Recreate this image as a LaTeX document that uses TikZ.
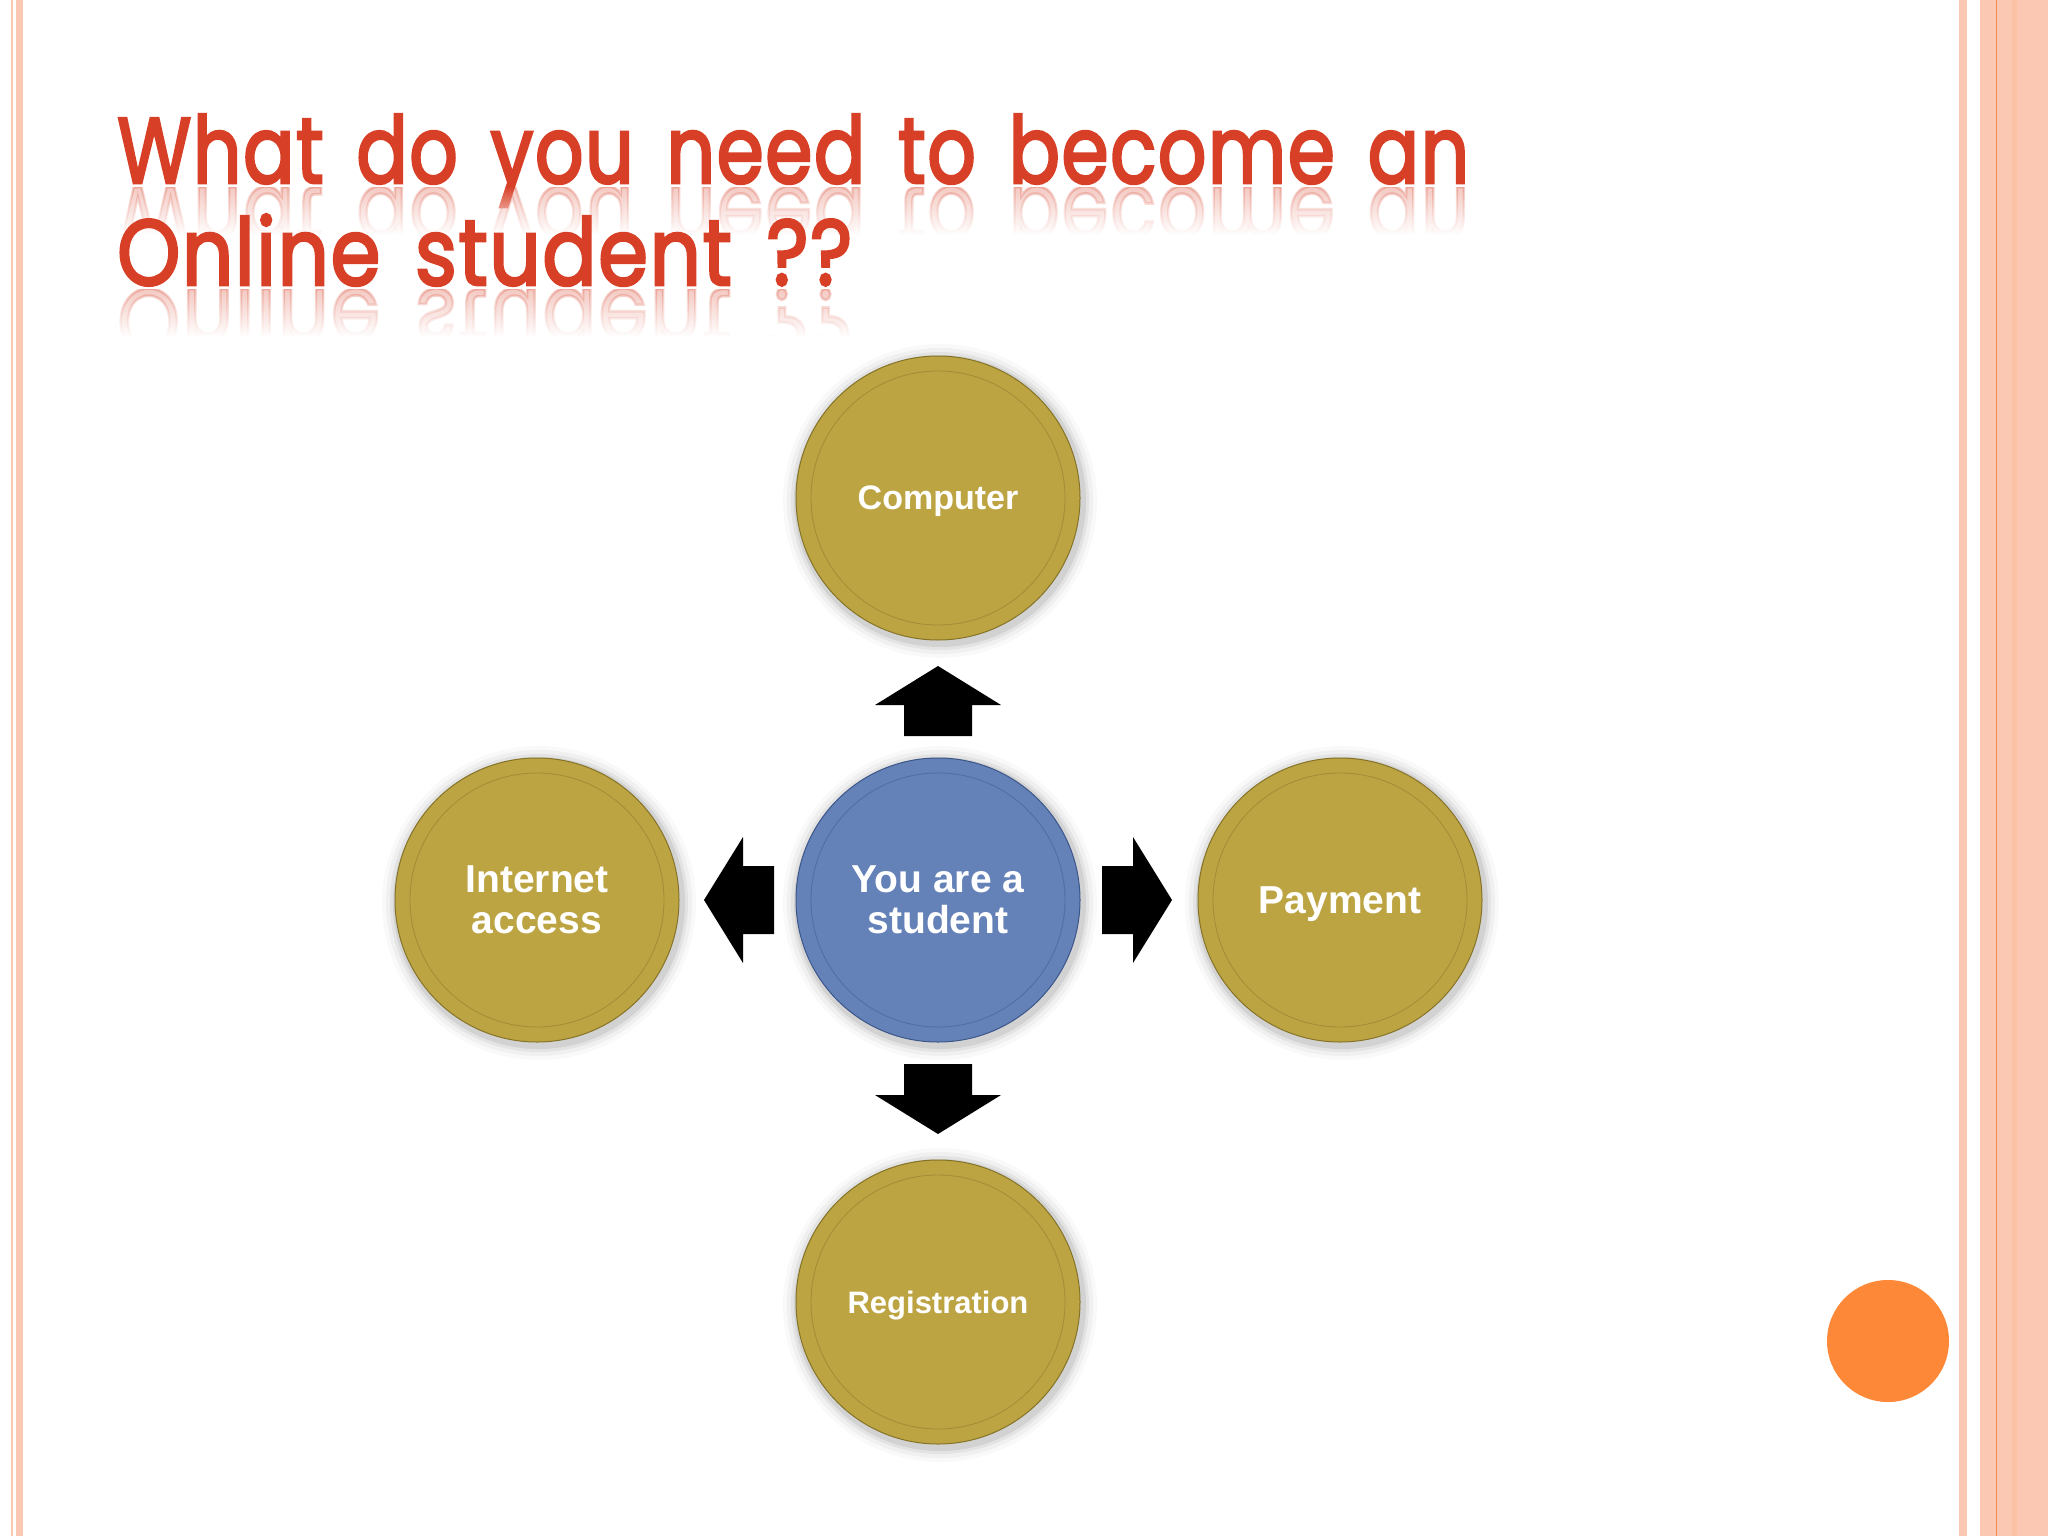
\documentclass[tikz,border=0pt]{standalone}
\usepackage{fontspec}
\setsansfont{Liberation Sans}
\newfontfamily\titlefont{Poppins}[LetterSpace=2, WordSpace=1.5, FakeBold=3]
\usetikzlibrary{calc,fadings}
\tikzfading[name=fadeup, top color=transparent!100, bottom color=transparent!0]
\definecolor{gold}{HTML}{BDA443}
\definecolor{golddark}{HTML}{857327}
\definecolor{ballblue}{HTML}{6482B8}
\definecolor{bluedark}{HTML}{3C568A}
\definecolor{titlered}{HTML}{D83F27}
\definecolor{bordercol}{HTML}{FBC8B4}
\definecolor{borderline}{HTML}{F08C50}
\definecolor{accent}{HTML}{FD8838}
\newcommand\titleA{\resizebox{1352pt}{\height}{What do you need to become an}}
\newcommand\titleB{\resizebox{735pt}{\height}{Online student ??}}
\tikzset{
  ball/.style={circle, minimum size=284pt, inner sep=0pt, text=white, align=center, line width=1pt, text depth=-7pt},
  goldball/.style={ball, fill=gold, draw=golddark},
  blueballstyle/.style={ball, fill=ballblue, draw=bluedark},
  bigtext/.style={font=\sffamily\bfseries\fontsize{39}{41}\selectfont},
  blockarrow/.style={fill=black},
  titletext/.style={anchor=base west, inner sep=0pt, text=titlered, font=\titlefont\fontsize{93}{100}\selectfont},
  reflect/.style={titletext, text opacity=0.28},
  bordershape/.style={fill=bordercol},
}
\begin{document}
\begin{tikzpicture}[x=1pt,y=-1pt]
\useasboundingbox (0,0) rectangle (2048,1536);
\fill[white] (0,0) rectangle (2048,1536);
% borders
\fill[bordershape] (11,0) rectangle (13,1536);
\fill[bordershape] (16,0) rectangle (23,1536);
\fill[bordershape] (1959,0) rectangle (1967,1536);
\fill[bordershape] (1980,0) rectangle (2048,1536);
\fill[fill=bordercol!92!orange] (2012,0) rectangle (2017,1536);
\fill[fill=borderline] (1995.5,0) rectangle (1997,1536);
% title line 1 with reflection
\node[titletext] (t1) at (117,183) {\titleA};
\begin{scope}
  \clip (100,187) rectangle (1500,234);
  \node[reflect] (ra) at (117,187) {\scalebox{1}[-1]{\titleA}};
\end{scope}
\fill[white, path fading=fadeup] (100,186) rectangle (1500,235);
% title line 2 with reflection
\node[titletext] (t2) at (117,285) {\titleB};
\begin{scope}
  \clip (100,289) rectangle (1500,336);
  \node[reflect] (rb) at (117,289) {\scalebox{1}[-1]{\titleB}};
\end{scope}
\fill[white, path fading=fadeup] (100,288) rectangle (1500,337);
% positions
\coordinate (pC) at (938,498);
\coordinate (pS) at (938,900);
\coordinate (pI) at (537,900);
\coordinate (pP) at (1340,900);
\coordinate (pR) at (938,1302);
% halos
\foreach \p in {pC,pS,pI,pP,pR} {
  \foreach \r/\o in {157/0.025,153/0.035,149/0.05,146/0.07} {
    \fill[black, opacity=\o] ($(\p)+(2,3)$) circle (\r pt);
  }
}
% balls
\node[goldball, font=\sffamily\bfseries\fontsize{34}{36}\selectfont] (C) at (pC) {Computer};
\node[blueballstyle, bigtext] (S) at (pS) {You are a\\student};
\node[goldball, bigtext] (I) at (pI) {Internet\\access};
\node[goldball, bigtext] (P) at (pP) {Payment};
\node[goldball, font=\sffamily\bfseries\fontsize{31}{33}\selectfont] (R) at (pR) {Registration};
% inner rings
\foreach \n/\c in {C/golddark,S/bluedark,I/golddark,P/golddark,R/golddark} {
  \draw[\c, line width=0.9pt, opacity=0.45] (\n) circle (127pt);
}
% block arrows
\foreach \ang in {90,-90,0,180} {
  \fill[blockarrow, shift={(S)}, rotate=\ang] (234,0) -- (195,63) -- (195,34) -- (164,34) -- (164,-34) -- (195,-34) -- (195,-63) -- cycle;
}
% accent dot
\node[circle, fill=accent, minimum size=122pt, inner sep=0pt] (dot) at (1888,1341) {};
\end{tikzpicture}
\end{document}
